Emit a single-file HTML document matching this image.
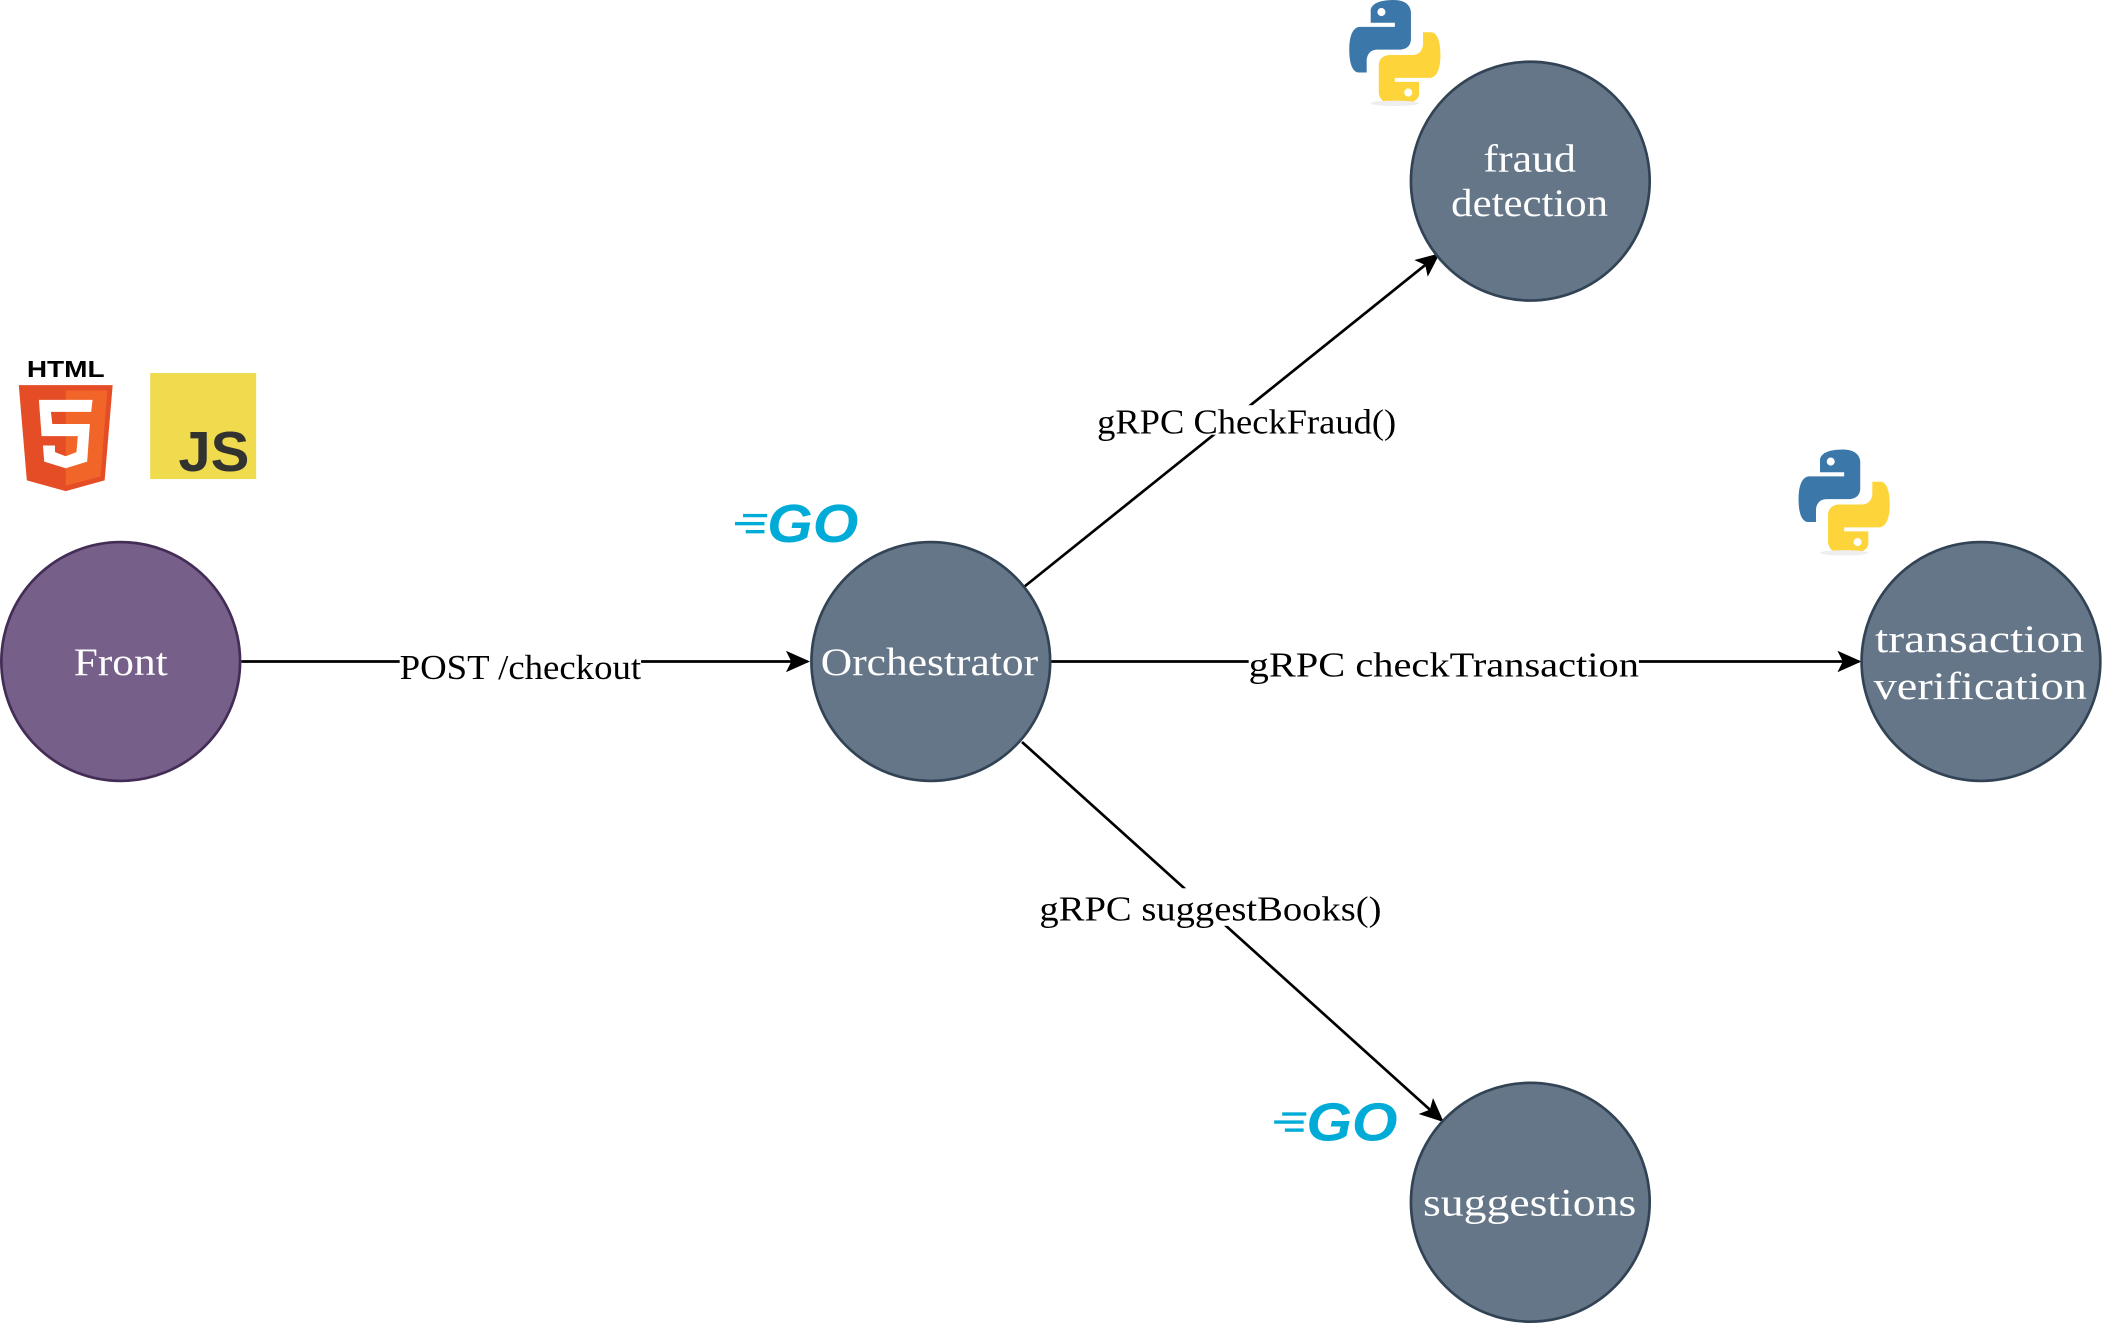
<!DOCTYPE html>
<html><head><meta charset="utf-8"><style>
html,body{margin:0;padding:0;background:#fff;}
svg{display:block;}
text{font-family:"Liberation Serif","DejaVu Serif",serif;}
</style></head><body>
<svg width="2103" height="1323" viewBox="0 0 1568 986" preserveAspectRatio="none" xmlns="http://www.w3.org/2000/svg">
<defs>
<marker id="a" markerWidth="18" markerHeight="16" refX="16" refY="8" orient="auto" markerUnits="userSpaceOnUse">
<path d="M0,0 L18,8 L0,16 L4,8 Z" fill="#000"/>
</marker>
<g id="py">
<path d="M33,0 C15,0 16,8 16,8 L16,17 L34,17 L34,20 L8,20 C8,20 0,19 0,37 C0,55 7,54 7,54 L13,54 L13,45 C13,45 13,37 21,37 L38,37 C38,37 46,37 46,29 L46,10 C46,10 47,0 33,0 Z" fill="#3b77a8"/>
<path d="M35,78 C53,78 52,70 52,70 L52,61 L34,61 L34,58 L60,58 C60,58 68,59 68,41 C68,23 61,24 61,24 L55,24 L55,33 C55,33 55,41 47,41 L30,41 C30,41 22,41 22,49 L22,68 C22,68 21,78 35,78 Z" fill="#fdd43a"/>
<circle cx="24" cy="9" r="3" fill="#fff"/><circle cx="44" cy="69" r="3" fill="#fff"/>
<ellipse cx="34" cy="77" rx="18" ry="2" fill="#eee"/>
</g>
<g id="go">
<text x="24" y="34" style="font-family:'Liberation Sans',sans-serif;font-style:italic;font-weight:bold" font-size="40" fill="#00acd7" textLength="68" lengthAdjust="spacingAndGlyphs">GO</text>
<rect x="6" y="13" width="18" height="2.5" fill="#00acd7"/><rect x="0" y="19" width="22" height="2.5" fill="#00acd7"/><rect x="8" y="25" width="14" height="2.5" fill="#00acd7"/>
</g>
</defs>
<!-- lines -->
<line x1="180" y1="493" x2="602" y2="493" stroke="#000" stroke-width="2" marker-end="url(#a)"/>
<line x1="764" y1="437" x2="1072" y2="190" stroke="#000" stroke-width="2" marker-end="url(#a)"/>
<line x1="784" y1="493" x2="1386" y2="493" stroke="#000" stroke-width="2" marker-end="url(#a)"/>
<line x1="762" y1="553" x2="1075" y2="835" stroke="#000" stroke-width="2" marker-end="url(#a)"/>
<!-- labels -->
<rect x="298" y="482" width="180" height="26" fill="#fff"/>
<text x="298" y="506" font-size="26" textLength="180" lengthAdjust="spacingAndGlyphs">POST /checkout</text>
<rect x="818" y="302" width="223" height="22" fill="#fff"/>
<text x="818" y="323" font-size="26" textLength="223" lengthAdjust="spacingAndGlyphs">gRPC CheckFraud()</text>
<rect x="931" y="483" width="291" height="24" fill="#fff"/>
<text x="931" y="504" font-size="26" textLength="291" lengthAdjust="spacingAndGlyphs">gRPC checkTransaction</text>
<rect x="775" y="662" width="255" height="28" fill="#fff"/>
<text x="775" y="686" font-size="26" textLength="255" lengthAdjust="spacingAndGlyphs">gRPC suggestBooks()</text>
<!-- nodes -->
<circle cx="90" cy="493" r="89" fill="#76608a" stroke="#432d57" stroke-width="2"/>
<text x="55" y="503" font-size="29" fill="#fff" textLength="70" lengthAdjust="spacingAndGlyphs">Front</text>
<circle cx="694" cy="493" r="89" fill="#647687" stroke="#314354" stroke-width="2"/>
<text x="612" y="503" font-size="29" fill="#fff" textLength="162" lengthAdjust="spacingAndGlyphs">Orchestrator</text>
<circle cx="1141" cy="135" r="89" fill="#647687" stroke="#314354" stroke-width="2"/>
<text x="1106" y="128" font-size="29" fill="#fff" textLength="69" lengthAdjust="spacingAndGlyphs">fraud</text>
<text x="1082" y="161" font-size="29" fill="#fff" textLength="117" lengthAdjust="spacingAndGlyphs">detection</text>
<circle cx="1477" cy="493" r="89" fill="#647687" stroke="#314354" stroke-width="2"/>
<text x="1398" y="486" font-size="29" fill="#fff" textLength="156" lengthAdjust="spacingAndGlyphs">transaction</text>
<text x="1397" y="521" font-size="29" fill="#fff" textLength="159" lengthAdjust="spacingAndGlyphs">verification</text>
<circle cx="1141" cy="896" r="89" fill="#647687" stroke="#314354" stroke-width="2"/>
<text x="1061" y="906" font-size="29" fill="#fff" textLength="159" lengthAdjust="spacingAndGlyphs">suggestions</text>
<!-- HTML5 logo -->
<text x="20" y="281" style="font-family:'Liberation Sans',sans-serif;font-weight:bold" font-size="17" textLength="58" lengthAdjust="spacingAndGlyphs">HTML</text>
<path d="M14,287 L84,287 L78,358 L49,366 L20,358 Z" fill="#e44d26"/>
<path d="M49,291 L80,291 L75,355 L49,362 Z" fill="#f16529"/>
<path d="M29,298 L69,298 L68,307 L38,307 L39,316 L67,316 L65,344 L49,349 L33,344 L32,332 L41,332 L41,337 L49,340 L57,337 L58,325 L31,325 Z" fill="#fff"/>
<!-- JS logo -->
<rect x="112" y="278" width="79" height="79" fill="#f0db4f"/>
<text x="133" y="351" style="font-family:'Liberation Sans',sans-serif;font-weight:bold" font-size="42" fill="#323330" textLength="53" lengthAdjust="spacingAndGlyphs">JS</text>
<!-- Go logos -->
<use href="#go" x="548" y="370"/>
<use href="#go" x="950" y="816"/>
<!-- Python logos -->
<use href="#py" x="1006" y="0"/>
<use href="#py" x="1341" y="335"/>
</svg>
</body></html>
